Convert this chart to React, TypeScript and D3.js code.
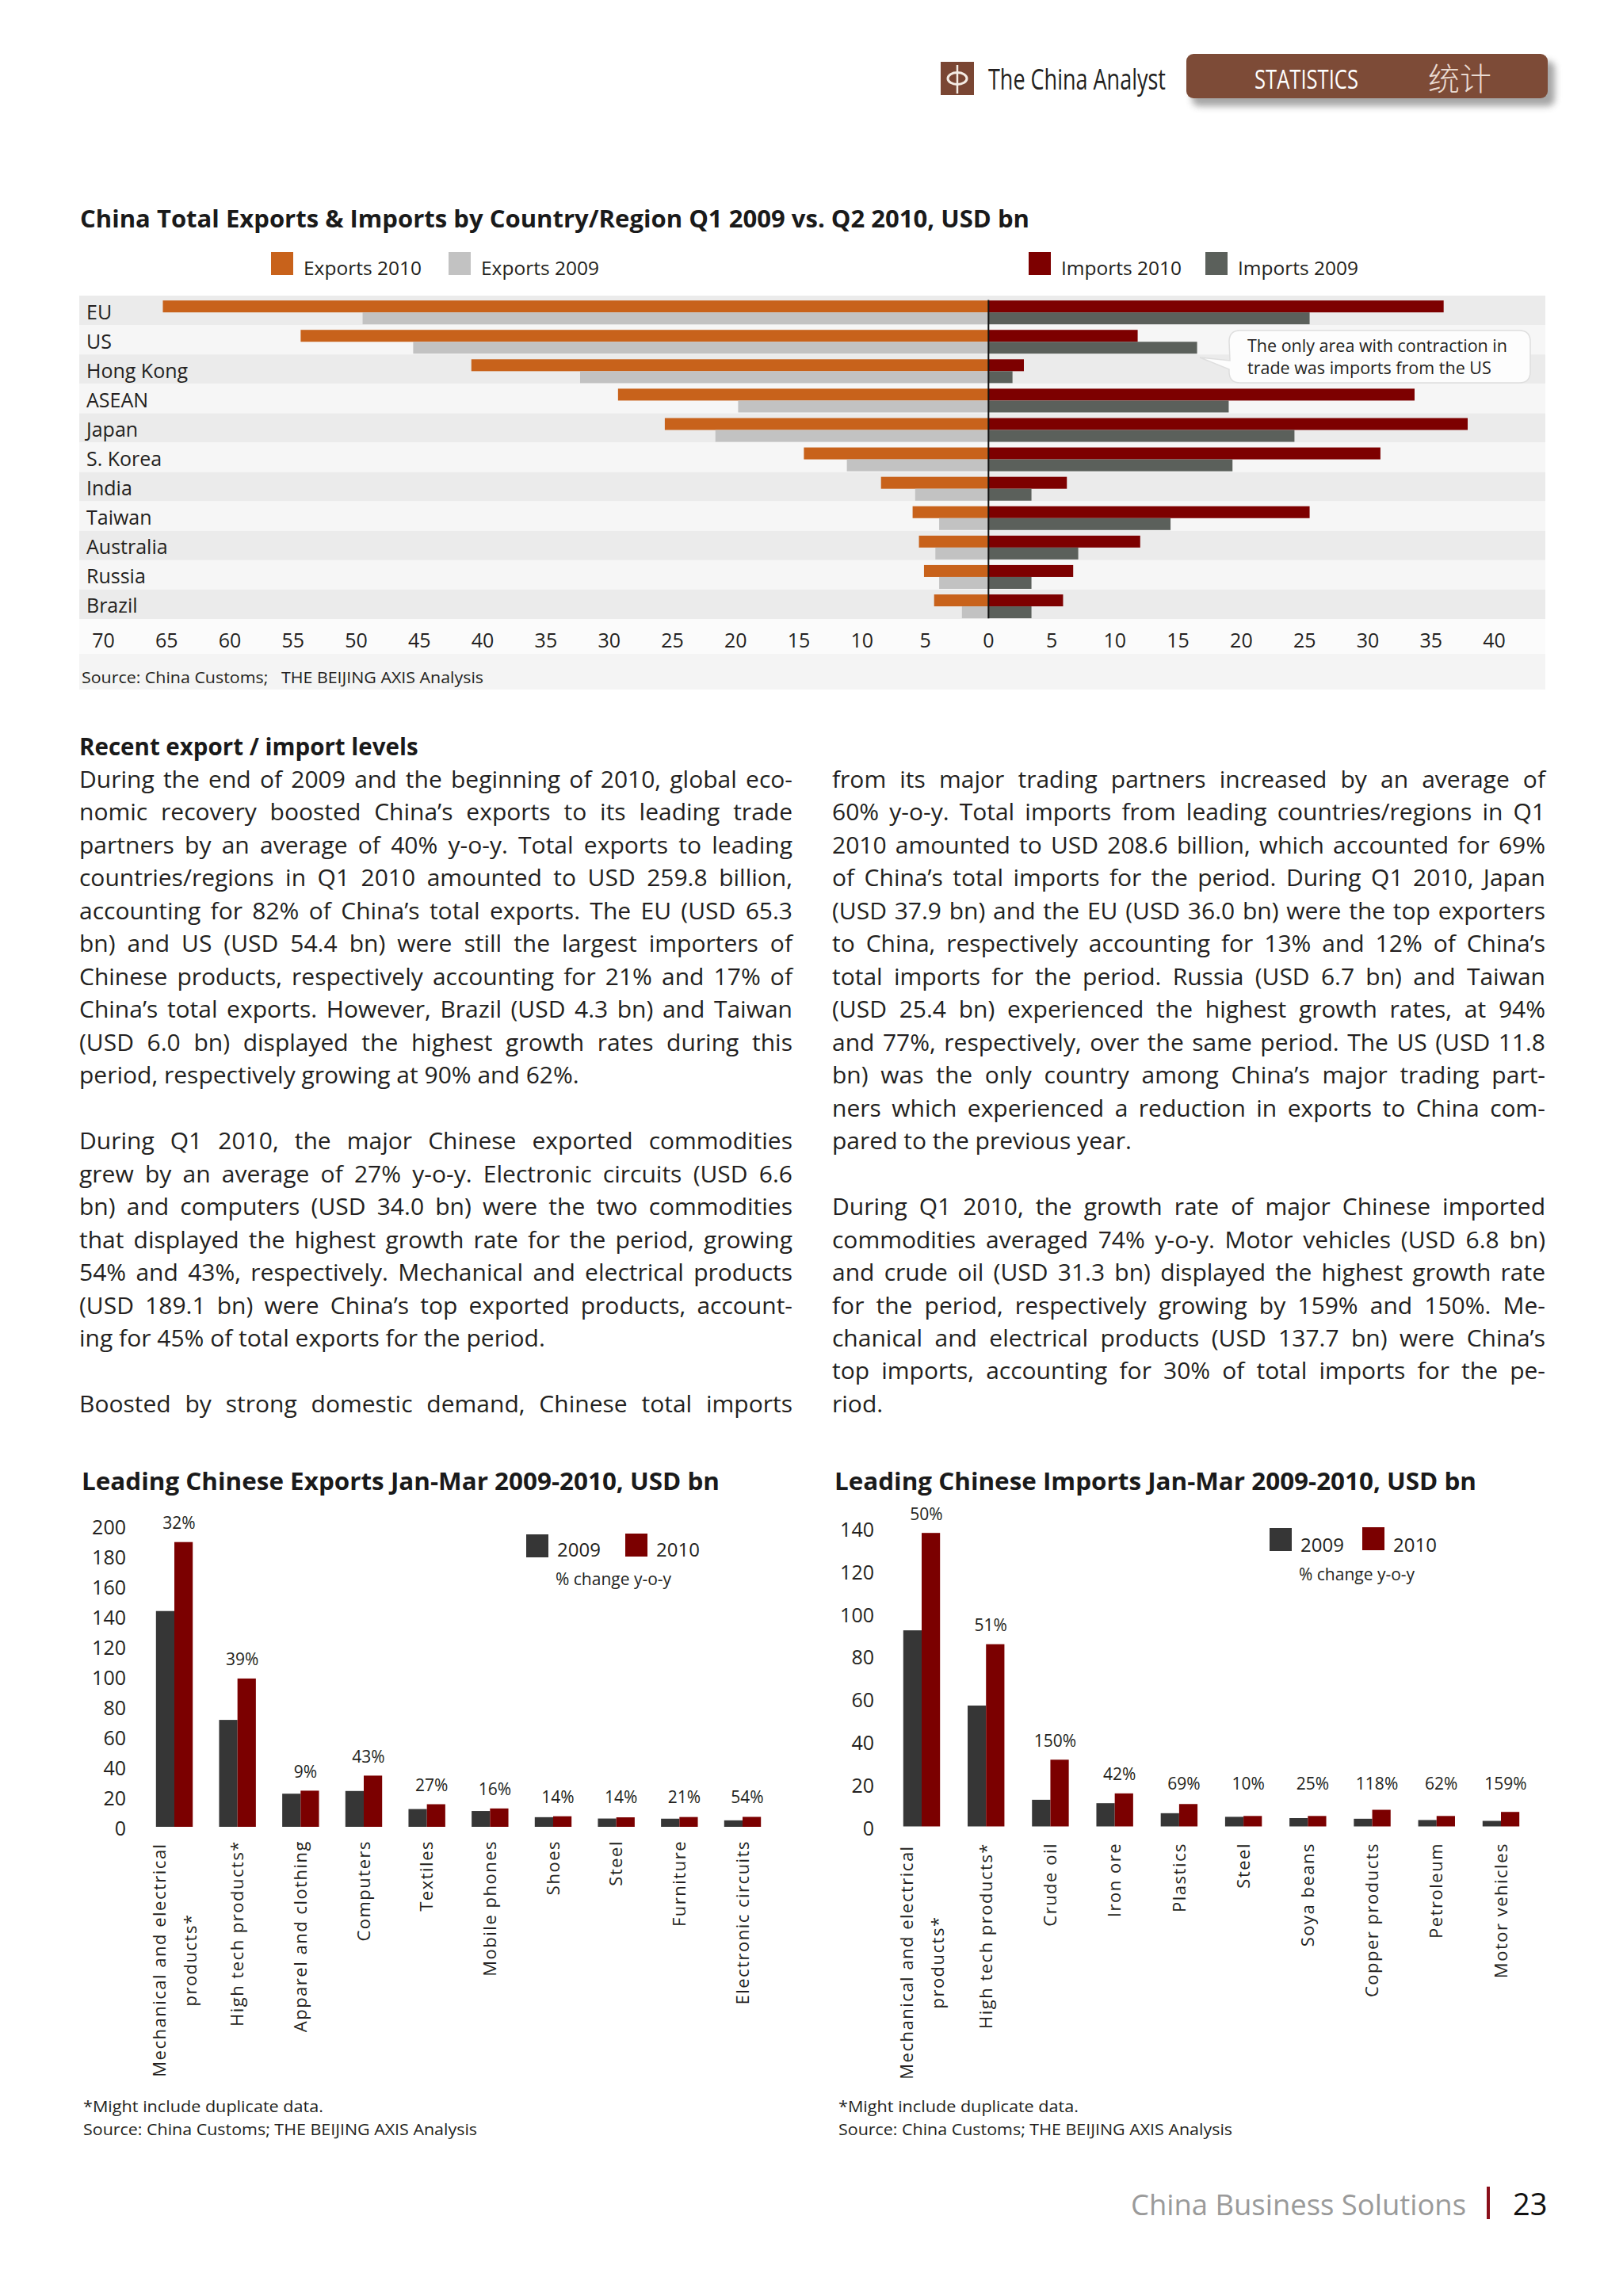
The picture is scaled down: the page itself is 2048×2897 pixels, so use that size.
import React, { useEffect, useRef } from 'react';
import * as d3 from 'd3';

// ---------------- DATA ----------------
const countries = ['EU', 'US', 'Hong Kong', 'ASEAN', 'Japan', 'S. Korea', 'India', 'Taiwan', 'Australia', 'Russia', 'Brazil'];
const exports2010 = [65.3, 54.4, 40.9, 29.3, 25.6, 14.6, 8.5, 6.0, 5.5, 5.1, 4.3];
const exports2009 = [49.5, 45.5, 32.3, 19.8, 21.6, 11.2, 5.8, 3.9, 4.2, 3.9, 2.1];
const imports2010 = [36.0, 11.8, 2.8, 33.7, 37.9, 31.0, 6.2, 25.4, 12.0, 6.7, 5.9];
const imports2009 = [25.4, 16.5, 1.9, 19.0, 24.2, 19.3, 3.4, 14.4, 7.1, 3.4, 3.4];
const tradeTicks = [-70, -65, -60, -55, -50, -45, -40, -35, -30, -25, -20, -15, -10, -5, 0, 5, 10, 15, 20, 25, 30, 35, 40];
const tradeLegend = ['Exports 2010', 'Exports 2009', 'Imports 2010', 'Imports 2009'];

const expCats = ['Mechanical and electrical\nproducts*', 'High tech products*', 'Apparel and clothing', 'Computers', 'Textiles', 'Mobile phones', 'Shoes', 'Steel', 'Furniture', 'Electronic circuits'];
const exp2009 = [143.3, 71.0, 22.0, 23.8, 11.8, 10.5, 6.4, 5.5, 5.4, 4.3];
const exp2010 = [189.1, 98.5, 24.0, 34.0, 15.0, 12.2, 7.0, 6.3, 6.5, 6.6];
const expPct = ['32%', '39%', '9%', '43%', '27%', '16%', '14%', '14%', '21%', '54%'];
const expTicks = [0, 20, 40, 60, 80, 100, 120, 140, 160, 180, 200];

const impCats = ['Mechanical and electrical\nproducts*', 'High tech products*', 'Crude oil', 'Iron ore', 'Plastics', 'Steel', 'Soya beans', 'Copper products', 'Petroleum', 'Motor vehicles'];
const imp2009 = [92.0, 56.7, 12.5, 10.9, 6.2, 4.5, 3.9, 3.6, 3.0, 2.6];
const imp2010 = [137.7, 85.5, 31.3, 15.5, 10.5, 4.9, 4.9, 7.8, 4.9, 6.8];
const impPct = ['50%', '51%', '150%', '42%', '69%', '10%', '25%', '118%', '62%', '159%'];
const impTicks = [0, 20, 40, 60, 80, 100, 120, 140];

const leftColumn: string[][] = [
  [
    'During the end of 2009 and the beginning of 2010, global eco-',
    'nomic recovery boosted China’s exports to its leading trade',
    'partners by an average of 40% y-o-y. Total exports to leading',
    'countries/regions in Q1 2010 amounted to USD 259.8 billion,',
    'accounting for 82% of China’s total exports. The EU (USD 65.3',
    'bn) and US (USD 54.4 bn) were still the largest importers of',
    'Chinese products, respectively accounting for 21% and 17% of',
    'China’s total exports. However, Brazil (USD 4.3 bn) and Taiwan',
    '(USD 6.0 bn) displayed the highest growth rates during this',
    'period, respectively growing at 90% and 62%.',
  ],
  [
    'During Q1 2010, the major Chinese exported commodities',
    'grew by an average of 27% y-o-y. Electronic circuits (USD 6.6',
    'bn) and computers (USD 34.0 bn) were the two commodities',
    'that displayed the highest growth rate for the period, growing',
    '54% and 43%, respectively. Mechanical and electrical products',
    '(USD 189.1 bn) were China’s top exported products, account-',
    'ing for 45% of total exports for the period.',
  ],
  ['Boosted by strong domestic demand, Chinese total imports'],
];
const rightColumn: string[][] = [
  [
    'from its major trading partners increased by an average of',
    '60% y-o-y. Total imports from leading countries/regions in Q1',
    '2010 amounted to USD 208.6 billion, which accounted for 69%',
    'of China’s total imports for the period. During Q1 2010, Japan',
    '(USD 37.9 bn) and the EU (USD 36.0 bn) were the top exporters',
    'to China, respectively accounting for 13% and 12% of China’s',
    'total imports for the period. Russia (USD 6.7 bn) and Taiwan',
    '(USD 25.4 bn) experienced the highest growth rates, at 94%',
    'and 77%, respectively, over the same period. The US (USD 11.8',
    'bn) was the only country among China’s major trading part-',
    'ners which experienced a reduction in exports to China com-',
    'pared to the previous year.',
  ],
  [
    'During Q1 2010, the growth rate of major Chinese imported',
    'commodities averaged 74% y-o-y. Motor vehicles (USD 6.8 bn)',
    'and crude oil (USD 31.3 bn) displayed the highest growth rate',
    'for the period, respectively growing by 159% and 150%. Me-',
    'chanical and electrical products (USD 137.7 bn) were China’s',
    'top imports, accounting for 30% of total imports for the pe-',
    'riod.',
  ],
];

// ---------------- STYLE ----------------
const FONT = "'Open Sans', 'Noto Sans', 'DejaVu Sans', sans-serif";
const TXT = '#231f20';
const C_EXP10 = '#c8621b';
const C_EXP09 = '#c2c2c2';
const C_IMP10 = '#7d0000';
const C_IMP09 = '#5b605b';
const C_B09 = '#363636';
const C_B10 = '#7b0000';

type Sel = d3.Selection<any, any, any, any>;

function txt(g: Sel, x: number, y: number, s: string, size: number, opts: any = {}) {
  const t = g.append('text').attr('x', x).attr('y', y).attr('font-family', opts.family || FONT)
    .attr('font-size', size).attr('fill', opts.fill || TXT).text(s);
  if (opts.weight) t.attr('font-weight', opts.weight);
  if (opts.anchor) t.attr('text-anchor', opts.anchor);
  if (opts.len) t.attr('textLength', opts.len).attr('lengthAdjust', 'spacingAndGlyphs');
  return t;
}

function drawHeader(svg: Sel) {
  svg.append('rect').attr('x', 1187).attr('y', 78).attr('width', 42).attr('height', 42).attr('fill', '#7a4633');
  svg.append('ellipse').attr('cx', 1208).attr('cy', 99).attr('rx', 12).attr('ry', 7.5)
    .attr('fill', 'none').attr('stroke', '#f4ece4').attr('stroke-width', 3);
  svg.append('line').attr('x1', 1208).attr('x2', 1208).attr('y1', 82).attr('y2', 118)
    .attr('stroke', '#f4ece4').attr('stroke-width', 2.5);
  txt(svg, 1247, 113, 'The China Analyst', 36, { len: 224, fill: '#231f20' });

  svg.append('rect').attr('x', 1504).attr('y', 77).attr('width', 458).attr('height', 57).attr('rx', 9)
    .attr('fill', '#6a6a6a').attr('opacity', 0.6).attr('filter', 'url(#blur)');
  svg.append('rect').attr('x', 1497).attr('y', 68).attr('width', 456).attr('height', 56).attr('rx', 9)
    .attr('fill', '#7d4b37');
  txt(svg, 1583, 112, 'STATISTICS', 33, { len: 131, fill: '#ffffff' });
  txt(svg, 1802, 114, '统计', 40, { family: "'Noto Sans CJK SC', sans-serif", weight: 300, fill: '#eadbd2' });
}

function drawTradeChart(svg: Sel) {
  const g = svg.append('g');
  txt(g, 101, 287, 'China Total Exports & Imports by Country/Region Q1 2009 vs. Q2 2010, USD bn', 30,
    { weight: 700, len: 1198, fill: '#1a1a1a' });

  const legColors = [C_EXP10, C_EXP09, C_IMP10, C_IMP09];
  const legX = [342, 566, 1298, 1521];
  tradeLegend.forEach((s, i) => {
    g.append('rect').attr('x', legX[i]).attr('y', 318).attr('width', 28).attr('height', 29).attr('fill', legColors[i]);
    txt(g, legX[i] + 41, 347, s, 24.5);
  });

  const x = d3.scaleLinear().domain([-70, 40]).range([130.5, 1885.5]);
  const y = d3.scaleBand<string>().domain(countries).range([373, 781]);
  const bw = y.bandwidth();

  // backgrounds
  g.append('rect').attr('x', 100).attr('y', 781).attr('width', 1850).attr('height', 44).attr('fill', '#fbfbfb');
  g.append('rect').attr('x', 100).attr('y', 825).attr('width', 1850).attr('height', 45).attr('fill', '#f4f4f4');
  g.selectAll('rect.band').data(countries).enter().append('rect')
    .attr('x', 100).attr('width', 1850)
    .attr('y', (d) => y(d)!).attr('height', bw)
    .attr('fill', (_d, i) => (i % 2 === 0 ? '#ebebeb' : '#f6f6f6'));

  const bars = [
    { vals: exports2010, sign: -1, off: 0.165, color: C_EXP10 },
    { vals: exports2009, sign: -1, off: 0.57, color: C_EXP09 },
    { vals: imports2010, sign: 1, off: 0.165, color: C_IMP10 },
    { vals: imports2009, sign: 1, off: 0.57, color: C_IMP09 },
  ];
  bars.forEach((b) => {
    g.append('g').selectAll('rect').data(b.vals).enter().append('rect')
      .attr('x', (v) => Math.min(x(0), x(b.sign * v)))
      .attr('width', (v) => Math.abs(x(b.sign * v) - x(0)))
      .attr('y', (_v, i) => y(countries[i])! + bw * b.off)
      .attr('height', bw * 0.405)
      .attr('fill', b.color);
  });

  g.append('line').attr('x1', x(0)).attr('x2', x(0))
    .attr('y1', y('EU')! + bw * 0.15).attr('y2', y('Brazil')! + bw * 0.98)
    .attr('stroke', '#111').attr('stroke-width', 2);

  countries.forEach((c) => {
    txt(g, 109, y(c)! + bw / 2 + 11, c, 25);
  });

  tradeTicks.forEach((t) => {
    txt(g, x(t), 817, String(Math.abs(t)), 25, { anchor: 'middle' });
  });

  // callout
  const cb = g.append('g');
  cb.append('path')
    .attr('d', 'M1565,417 H1917 Q1931,417 1931,431 V469 Q1931,483 1917,483 H1565 Q1551,483 1551,469 L1551,466 L1514,451 L1552,455 L1551,431 Q1551,417 1565,417 Z')
    .attr('fill', '#fdfdfd').attr('stroke', '#dedede').attr('stroke-width', 1.5);
  txt(cb, 1574, 444, 'The only area with contraction in', 21.5);
  txt(cb, 1574, 472, 'trade was imports from the US', 21.5);

  txt(g, 103, 862, 'Source: China Customs;   THE BEIJING AXIS Analysis', 20, { len: 507 }).attr('xml:space', 'preserve');
}

function drawBody(svg: Sel) {
  const g = svg.append('g');
  const lh = 41.47;
  const base = 994;
  txt(g, 100, base - lh + 0.5, 'Recent export / import levels', 29.5, { weight: 700, fill: '#1a1a1a' });

  const cols = [
    { x: 100, paras: leftColumn, lastJust: true },
    { x: 1050, paras: rightColumn, lastJust: false },
  ];
  cols.forEach((col) => {
    let k = 0;
    col.paras.forEach((para, pi) => {
      para.forEach((line, li) => {
        const isLast = li === para.length - 1;
        const justify = !isLast || (col.lastJust && pi === col.paras.length - 1);
        const t = txt(g, col.x, base + k * lh, line, 30);
        if (justify) {
          const node = t.node() as SVGTextElement;
          const len = node.getComputedTextLength();
          const spaces = line.split(' ').length - 1;
          if (spaces > 0) t.attr('word-spacing', (900 - len) / spaces);
        }
        k += 1;
      });
      k += 1;
    });
  });
}

interface BarOpts {
  cats: string[]; v09: number[]; v10: number[]; pct: string[]; ticks: number[];
  x0: number; x1: number; yZero: number; yTop: number; yMax: number;
  tickX: number; title: string; titleX: number; titleLen: number;
  legX: number; legY: number; legTextY: number; pctY: number; legGap: number;
  labelEnd: number; labelMid: number; footX: number;
}

function drawBarChart(svg: Sel, o: BarOpts) {
  const g = svg.append('g');
  txt(g, o.titleX, 1880, o.title, 30, { weight: 700, len: o.titleLen, fill: '#1a1a1a' });

  const x = d3.scalePoint<string>().domain(o.cats).range([o.x0, o.x1]);
  const y = d3.scaleLinear().domain([0, o.yMax]).range([o.yZero, o.yTop]);
  const bw = 23.2;

  o.ticks.forEach((t) => txt(g, o.tickX, y(t) + 11, String(t), 25, { anchor: 'end' }));

  g.append('g').selectAll('rect').data(o.v09).enter().append('rect')
    .attr('x', (_v, i) => x(o.cats[i])! - bw).attr('width', bw)
    .attr('y', (v) => y(v)).attr('height', (v) => y(0) - y(v)).attr('fill', C_B09);
  g.append('g').selectAll('rect').data(o.v10).enter().append('rect')
    .attr('x', (_v, i) => x(o.cats[i])!).attr('width', bw)
    .attr('y', (v) => y(v)).attr('height', (v) => y(0) - y(v)).attr('fill', C_B10);

  o.pct.forEach((p, i) => {
    const top = y(Math.max(o.v09[i], o.v10[i]));
    const cy = Math.min(top - 24, y(20));
    txt(g, x(o.cats[i])! + 6, cy + 7.5, p, 21, { anchor: 'middle' });
  });

  // legend
  g.append('rect').attr('x', o.legX).attr('y', o.legY).attr('width', 28).attr('height', 29).attr('fill', C_B09);
  txt(g, o.legX + 39, o.legTextY, '2009', 24);
  g.append('rect').attr('x', o.legX + o.legGap).attr('y', o.legY - 1).attr('width', 28).attr('height', 29).attr('fill', C_B10);
  txt(g, o.legX + o.legGap + 39, o.legTextY, '2010', 24);
  txt(g, o.legX + 37, o.pctY, '% change y-o-y', 21);

  // category labels (rotated)
  o.cats.forEach((c) => {
    const cx = x(c)!;
    const lines = c.split('\n');
    if (lines.length === 1) {
      g.append('text').attr('transform', `translate(${cx},${o.labelEnd}) rotate(-90)`)
        .attr('text-anchor', 'end').attr('dy', '0.35em')
        .attr('font-family', FONT).attr('font-size', 22).attr('letter-spacing', 1.5)
        .attr('fill', TXT).text(lines[0]);
    } else {
      lines.forEach((ln, li) => {
        g.append('text').attr('transform', `translate(${cx + (li === 0 ? -19 : 20)},${o.labelMid}) rotate(-90)`)
          .attr('text-anchor', 'middle').attr('dy', '0.35em')
          .attr('font-family', FONT).attr('font-size', 22).attr('letter-spacing', 1.5)
          .attr('fill', TXT).text(ln);
      });
    }
  });

  txt(g, o.footX, 2665, '*Might include duplicate data.', 20, { len: 303 });
  txt(g, o.footX, 2694, 'Source: China Customs; THE BEIJING AXIS Analysis', 20, { len: 497 });
}

function drawFooter(svg: Sel) {
  txt(svg, 1427, 2795, 'China Business Solutions', 37, { fill: '#9a9a9a', len: 423 });
  svg.append('rect').attr('x', 1876).attr('y', 2759).attr('width', 4).attr('height', 41).attr('fill', '#8a0f1a');
  txt(svg, 1909, 2795, '23', 38, { fill: '#111' });
}

function draw(el: SVGSVGElement) {
  const svg = d3.select(el) as unknown as Sel;
  svg.selectAll('*').remove();
  const defs = svg.append('defs');
  const f = defs.append('filter').attr('id', 'blur').attr('x', '-10%').attr('y', '-40%').attr('width', '120%').attr('height', '180%');
  f.append('feGaussianBlur').attr('stdDeviation', 4);

  svg.append('rect').attr('width', 2048).attr('height', 2897).attr('fill', '#ffffff');
  drawHeader(svg);
  drawTradeChart(svg);
  drawBody(svg);
  drawBarChart(svg, {
    cats: expCats, v09: exp2009, v10: exp2010, pct: expPct, ticks: expTicks,
    x0: 220, x1: 937, yZero: 2305, yTop: 1925, yMax: 200, tickX: 159,
    title: 'Leading Chinese Exports Jan-Mar 2009-2010, USD bn', titleX: 103, titleLen: 805,
    legX: 664, legY: 1936, legTextY: 1964, pctY: 2000, legGap: 125,
    labelEnd: 2322, labelMid: 2473, footX: 105,
  });
  drawBarChart(svg, {
    cats: impCats, v09: imp2009, v10: imp2010, pct: impPct, ticks: impTicks,
    x0: 1163, x1: 1894, yZero: 2304.5, yTop: 1928, yMax: 140, tickX: 1103,
    title: 'Leading Chinese Imports Jan-Mar 2009-2010, USD bn', titleX: 1053, titleLen: 810,
    legX: 1602, legY: 1928, legTextY: 1958, pctY: 1994, legGap: 117,
    labelEnd: 2325, labelMid: 2476, footX: 1058,
  });
  drawFooter(svg);
}

export default function App() {
  const ref = useRef<SVGSVGElement>(null);
  useEffect(() => {
    if (ref.current) draw(ref.current);
  }, []);
  return (
    <svg
      ref={ref}
      width={2048}
      height={2897}
      style={{ position: 'absolute', left: 0, top: 0, display: 'block', background: '#fff' }}
    />
  );
}
